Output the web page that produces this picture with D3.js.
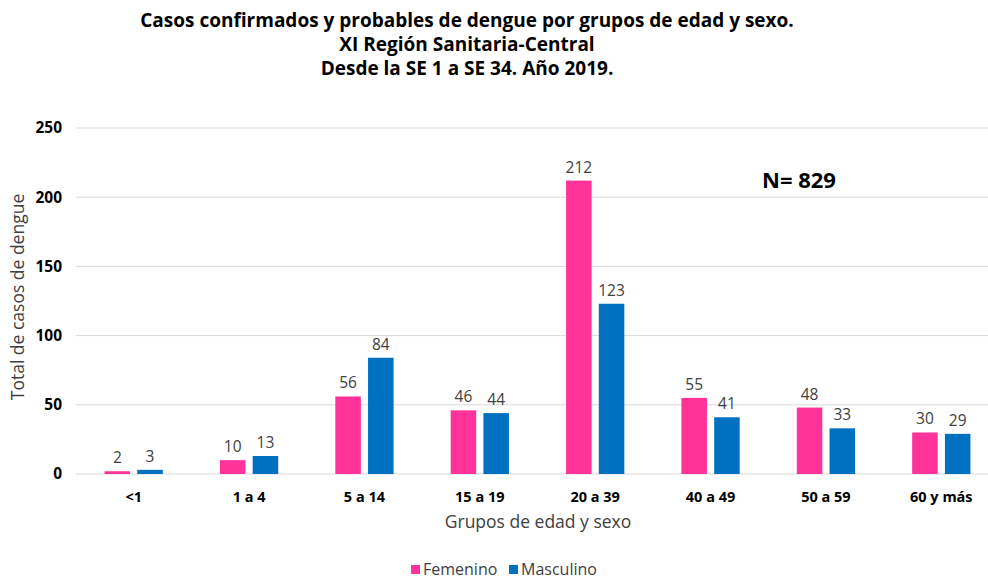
<!DOCTYPE html>
<html><head><meta charset="utf-8">
<script src="https://cdn.jsdelivr.net/npm/d3@7"></script>
<style>body{margin:0;background:#fff}svg{display:block}</style>
</head><body><svg id="c" width="988" height="581"></svg>
<script>
const categories = ["<1","1 a 4","5 a 14","15 a 19","20 a 39","40 a 49","50 a 59","60 y más"];
const seriesNames = ["Femenino","Masculino"];
const femenino = [2,10,56,46,212,55,48,30];
const masculino = [3,13,84,44,123,41,33,29];
const yTicks = [0,50,100,150,200,250];
const colors = ["#FF3399","#0070C0"];
const titleLines = ["Casos confirmados y probables de dengue por grupos de edad y sexo.","XI Región Sanitaria-Central","Desde la SE 1 a SE 34. Año 2019."];

const svg = d3.select("#c");
const font = "'Open Sans', 'Noto Sans', sans-serif";
const x0 = d3.scaleBand().domain(categories).range([76, 999]).paddingInner(0.495).paddingOuter(0.2475);
const x1 = d3.scaleBand().domain(seriesNames).range([0, x0.bandwidth()]).paddingInner(0.22);
const y = d3.scaleLinear().domain([0,250]).range([474,128]);

// gridlines
svg.append("g").selectAll("line").data(yTicks).join("line")
  .attr("x1",76).attr("x2",999).attr("y1",d=>y(d)).attr("y2",d=>y(d))
  .attr("stroke","#d9d9d9").attr("stroke-width",1);

// y tick labels
svg.append("g").selectAll("text").data(yTicks).join("text")
  .attr("x",62).attr("y",d=>y(d)).attr("dy","0.35em").attr("text-anchor","end")
  .attr("font-family",font).attr("font-weight","bold").attr("font-size",15.5).attr("fill","#000")
  .text(d=>d);

const data = categories.map((c,i)=>({cat:c, vals:[femenino[i], masculino[i]]}));
const g = svg.append("g").selectAll("g").data(data).join("g")
  .attr("transform",d=>`translate(${x0(d.cat)},0)`);
g.selectAll("rect").data(d=>d.vals.map((v,j)=>({s:seriesNames[j],v,j}))).join("rect")
  .attr("x",d=>x1(d.s)).attr("width",x1.bandwidth())
  .attr("y",d=>y(d.v)).attr("height",d=>y(0)-y(d.v))
  .attr("fill",d=>colors[d.j]);
g.selectAll("text").data(d=>d.vals.map((v,j)=>({s:seriesNames[j],v,j}))).join("text")
  .attr("x",d=>x1(d.s)+x1.bandwidth()/2).attr("y",d=>y(d.v)-8)
  .attr("text-anchor","middle").attr("font-family",font).attr("font-size",15.5).attr("fill","#404040")
  .text(d=>d.v);

// x tick labels
svg.append("g").selectAll("text").data(categories).join("text")
  .attr("x",d=>x0(d)+x0.bandwidth()/2).attr("y",502).attr("text-anchor","middle")
  .attr("font-family",font).attr("font-weight","bold").attr("font-size",14.5).attr("fill","#000")
  .text(d=>d);

// axis titles
svg.append("text").attr("x",538).attr("y",528).attr("text-anchor","middle")
  .attr("font-family",font).attr("font-size",17.5).attr("fill","#404040").text("Grupos de edad y sexo");
svg.append("text").attr("transform","translate(24,297) rotate(-90)").attr("text-anchor","middle")
  .attr("font-family",font).attr("font-size",17.5).attr("fill","#404040").text("Total de casos de dengue");

// title
svg.append("g").selectAll("text").data(titleLines).join("text")
  .attr("x",467).attr("y",(d,i)=>27+i*24).attr("text-anchor","middle")
  .attr("font-family",font).attr("font-weight","bold").attr("font-size",19).attr("fill","#000")
  .text(d=>d);

// N label
svg.append("text").attr("x",799).attr("y",188).attr("text-anchor","middle")
  .attr("font-family",font).attr("font-weight","bold").attr("font-size",22).attr("fill","#000").text("N= 829");

// legend
const leg = svg.append("g").selectAll("g").data(seriesNames).join("g")
  .attr("transform",(d,i)=>`translate(${[411,509][i]},565)`);
leg.append("rect").attr("width",9).attr("height",9).attr("fill",(d,i)=>colors[i]);
leg.append("text").attr("x",12).attr("y",10).attr("font-family",font).attr("font-size",16)
  .attr("fill","#404040").text(d=>d);
</script></body></html>
